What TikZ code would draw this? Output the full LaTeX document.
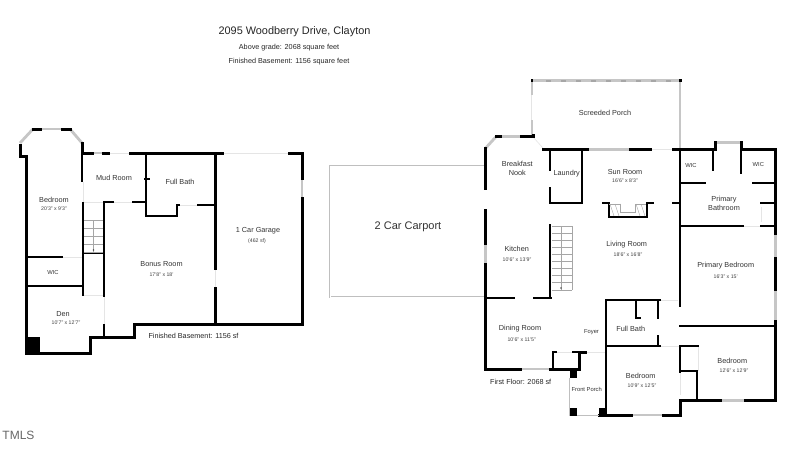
\documentclass[tikz,border=0pt]{standalone}
\usepackage{fontspec}
\setmainfont{Liberation Sans}
\tikzset{
  wall/.style={line width=3pt,line cap=rect,black},
  slimwall/.style={line width=2pt,line cap=rect,black},
  pane/.style={line width=2.8pt,gray!45},
  doorgap/.style={line width=0.6pt,gray!20},
  porchline/.style={line width=0.6pt,gray!50},
  treads/.style={line width=0.4pt,gray!70},
  room/.style={font=\fontsize{7.3}{8}\selectfont,text=black!80,inner sep=0pt,align=center},
  dim/.style={font=\fontsize{5.2}{6}\selectfont,text=black!75,inner sep=0pt},
  tiny/.style={font=\fontsize{5.8}{6}\selectfont,text=black!80,inner sep=0pt},
  heading/.style={font=\fontsize{7.25}{8}\selectfont,text=black!85,inner sep=0pt}
}
\begin{document}
\begin{tikzpicture}[x=1pt,y=-1pt]
\useasboundingbox ( 0, 0 ) rectangle ( 800, 456 );
\fill [white] ( 0, 0 ) rectangle ( 800, 456 );

% заголовок
\node [heading,font=\fontsize{10.9}{12}\selectfont] (title) at ( 294.5, 32 ) {2095 Woodberry Drive, Clayton};
\node [heading] (above) at ( 289, 48 ) {Above grade: 2068 square feet};
\node [heading] (finished) at ( 289, 62 ) {Finished Basement: 1156 square feet};

% подвал: окна и проёмы
\draw [pane] ( 20, 143 ) -- ( 33, 129 );
\draw [pane] ( 40, 129 ) -- ( 62, 129 );
\draw [pane] ( 70, 129 ) -- ( 82, 143 );
\draw [pane] ( 92, 153 ) -- ( 103, 153 );
\draw [pane] ( 302, 178 ) -- ( 302, 198 );
\draw [doorgap] ( 108, 153 ) -- ( 130, 153 );
\draw [doorgap] ( 222, 153 ) -- ( 289, 153 );
\draw [doorgap] ( 83, 182 ) -- ( 83, 202 );
\draw [doorgap] ( 83, 202 ) -- ( 103, 202 );
\draw [doorgap] ( 113, 202 ) -- ( 133, 202 );
\draw [doorgap] ( 180, 205 ) -- ( 198, 205 );
\draw [doorgap] ( 63, 257 ) -- ( 82, 257 );
\draw [doorgap,line width=1pt] ( 84, 295 ) -- ( 103, 295 );
\draw [doorgap] ( 104, 297 ) -- ( 104, 325 );
\draw [doorgap] ( 215, 268 ) -- ( 215, 288 );

% подвал: стены
\draw [wall] ( 20, 145 ) -- ( 20, 156 ) -- ( 26, 156 ) -- ( 26, 353 ) -- ( 90, 353 ) -- ( 90, 337 ) -- ( 134, 337 ) -- ( 134, 324 ) -- ( 302, 324 ) -- ( 302, 198 );
\draw [wall] ( 302, 178 ) -- ( 302, 153 ) -- ( 289, 153 );
\draw [wall] ( 222, 153 ) -- ( 130, 153 );
\draw [wall] ( 108, 153 ) -- ( 103, 153 );
\draw [wall] ( 92, 153 ) -- ( 82, 153 ) -- ( 82, 143 );
\draw [wall] ( 33, 129 ) -- ( 40, 129 );
\draw [wall] ( 62, 129 ) -- ( 70, 129 );
\draw [slimwall] ( 82, 153 ) -- ( 82, 181 );
\draw [slimwall,line width=1.2pt] ( 83, 203 ) -- ( 83, 295 );
\draw [slimwall] ( 26, 257 ) -- ( 62, 257 );
\draw [slimwall] ( 26, 286 ) -- ( 82, 286 );
\draw [slimwall] ( 83, 253 ) -- ( 104, 253 );
\draw [slimwall] ( 104, 202 ) -- ( 104, 296 );
\draw [slimwall] ( 104, 325 ) -- ( 104, 337 );
\draw [slimwall] ( 104, 202 ) -- ( 113, 202 );
\draw [slimwall] ( 133, 202 ) -- ( 145, 202 );
\draw [slimwall] ( 145.5, 153 ) -- ( 145.5, 216 ) -- ( 176.5, 216 ) -- ( 176.5, 205 ) -- ( 179, 205 );
\draw [slimwall] ( 145, 179 ) -- ( 149, 179 );
\draw [slimwall] ( 198, 205 ) -- ( 215, 205 );
\draw [wall] ( 215, 153 ) -- ( 215, 268 );
\draw [wall] ( 215, 288 ) -- ( 215, 324 );
\fill [black] ( 26, 337 ) rectangle ( 40, 354 );

% подвал: лестница
\foreach \y in { 220, 228, 236, 244, 252 }
  \draw [treads] ( 84, \y ) -- ( 103, \y );
\draw [treads] ( 93.5, 220 ) -- ( 93.5, 252 );
\fill [black!70] ( 93.5, 250 ) circle ( 0.8 );

% подвал: подписи
\node [room] (bedroomlow) at ( 54, 200 ) {Bedroom};
\node [dim] (bedroomlowdim) at ( 54, 208.5 ) {20'3" x 9'3"};
\node [room] (mudroom) at ( 114, 177.5 ) {Mud Room};
\node [room] (bathlow) at ( 180, 182 ) {Full Bath};
\node [room] (garage) at ( 258, 231 ) {1 Car Garage};
\node [dim] (garagedim) at ( 257, 241 ) {(462 sf)};
\node [room] (bonus) at ( 161.5, 264 ) {Bonus Room};
\node [dim] (bonusdim) at ( 161.5, 274.5 ) {17'8" x 18'};
\node [tiny] (wiclow) at ( 53, 272 ) {WIC};
\node [room] (den) at ( 63, 314 ) {Den};
\node [dim] (dendim) at ( 66, 323 ) {10'7" x 12'7"};
\node [heading] (basementarea) at ( 193.5, 336 ) {Finished Basement: 1156 sf};

% навес
\draw [porchline,double=white,double distance=0.6pt] ( 485, 166 ) -- ( 330, 166 ) -- ( 330, 297 ) -- ( 485, 297 );
\node [room,font=\fontsize{11}{12}\selectfont] (carport) at ( 408, 227 ) {2 Car Carport};

% веранда
\draw [pane,line width=2.4pt] ( 532, 80.5 ) -- ( 680, 80.5 ) -- ( 680, 148 );
\draw [pane,line width=2.4pt] ( 531.7, 80 ) -- ( 531.7, 95 );
\draw [pane,line width=2.4pt] ( 531.7, 120 ) -- ( 531.7, 135 );
\draw [doorgap] ( 531.7, 95 ) -- ( 531.7, 120 );
\foreach \x in { 546, 561, 576, 591, 606, 621, 636, 651, 666 }
  \draw [gray!70,line width=0.3pt] ( \x, 79.7 ) rectangle ( \x + 4, 81.3 );
\fill [black] ( 678.5, 78.5 ) rectangle ( 681.5, 82 );
\fill [black] ( 530.5, 79 ) rectangle ( 533, 82 );
\node [room] (porch) at ( 605, 113.3 ) {Screeded Porch};

% первый этаж: окна и проёмы
\draw [pane] ( 485.7, 148 ) -- ( 496, 136.7 );
\draw [pane] ( 502, 136.7 ) -- ( 521, 136.7 );
\draw [doorgap] ( 533, 137 ) -- ( 543, 148 );
\draw [pane] ( 485.7, 243 ) -- ( 485.7, 264 );
\draw [pane] ( 520, 369 ) -- ( 550, 369 );
\draw [pane] ( 587, 149.3 ) -- ( 630, 149.3 );
\draw [doorgap] ( 650, 149.3 ) -- ( 673, 149.3 );
\draw [pane] ( 717, 142.7 ) -- ( 740, 142.7 );
\draw [pane] ( 775.7, 233 ) -- ( 775.7, 258 );
\draw [pane] ( 775.7, 289 ) -- ( 775.7, 321 );
\draw [pane] ( 720, 400.7 ) -- ( 745, 400.7 );
\draw [pane] ( 631, 415 ) -- ( 663, 415 );
\draw [doorgap] ( 660, 300 ) -- ( 678, 300 );
\draw [doorgap] ( 660, 346 ) -- ( 680, 346 );
\draw [doorgap] ( 585, 352 ) -- ( 605, 352 );
\draw [doorgap] ( 556, 352 ) -- ( 573, 352 );
\draw [doorgap] ( 742.7, 226 ) -- ( 760, 226 );
\draw [doorgap] ( 761, 207 ) -- ( 761, 222 );
\draw [doorgap] ( 680, 372 ) -- ( 680, 395 );
\draw [doorgap] ( 698, 346 ) -- ( 698, 371 );

% первый этаж: стены
\draw [wall] ( 485.7, 148 ) -- ( 485.7, 188 );
\draw [wall] ( 485.7, 210 ) -- ( 485.7, 243 );
\draw [wall] ( 485.7, 264 ) -- ( 485.7, 369 ) -- ( 520, 369 );
\draw [wall] ( 496, 136.7 ) -- ( 500, 136.7 );
\draw [wall] ( 521, 136.7 ) -- ( 533, 136.7 ) -- ( 533, 135 );
\draw [wall] ( 543, 149.3 ) -- ( 587, 149.3 );
\draw [wall] ( 630, 149.3 ) -- ( 650, 149.3 );
\draw [wall] ( 673, 149.3 ) -- ( 715.7, 149.3 ) -- ( 715.7, 142 );
\draw [wall] ( 741, 142 ) -- ( 741, 149.3 ) -- ( 775.7, 149.3 ) -- ( 775.7, 233 );
\draw [slimwall] ( 741, 149 ) -- ( 741, 173 );
\draw [slimwall] ( 713, 150 ) -- ( 713, 170 );
\draw [slimwall] ( 680, 183.3 ) -- ( 705, 183.3 );
\draw [slimwall] ( 753, 183.3 ) -- ( 775, 183.3 );
\draw [slimwall] ( 761, 202.7 ) -- ( 775, 202.7 );
\draw [slimwall] ( 761, 226 ) -- ( 775, 226 );
\draw [slimwall] ( 680, 226 ) -- ( 742.7, 226 );
\draw [slimwall] ( 680, 149 ) -- ( 680, 306 );
\draw [slimwall] ( 673, 203 ) -- ( 680, 203 );
\draw [wall] ( 775.7, 258 ) -- ( 775.7, 289 );
\draw [wall] ( 775.7, 321 ) -- ( 775.7, 400.7 ) -- ( 745, 400.7 );
\draw [wall] ( 720, 400.7 ) -- ( 680.7, 400.7 ) -- ( 680.7, 415 ) -- ( 663, 415 );
\draw [wall] ( 631, 415 ) -- ( 599, 415 );
\draw [slimwall] ( 680, 325.7 ) -- ( 776, 325.7 );
\draw [slimwall] ( 680, 346 ) -- ( 680, 372 );
\draw [slimwall] ( 680, 346 ) -- ( 698, 346 );
\draw [slimwall] ( 680, 371 ) -- ( 697, 371 ) -- ( 697, 400 );
\draw [slimwall] ( 605.7, 300 ) -- ( 660, 300 );
\draw [slimwall] ( 636, 300 ) -- ( 636, 318 ) -- ( 640, 318 );
\draw [slimwall] ( 658, 300 ) -- ( 658, 318 );
\draw [slimwall] ( 658, 336 ) -- ( 658, 346 );
\draw [slimwall] ( 607, 346 ) -- ( 660, 346 );
\draw [slimwall] ( 605.7, 300 ) -- ( 605.7, 415 );
\draw [wall] ( 550, 369 ) -- ( 579, 369 ) -- ( 579, 352 ) -- ( 585, 352 );
\draw [slimwall] ( 553, 369 ) -- ( 553, 352 ) -- ( 556, 352 );
\draw [slimwall] ( 573, 352 ) -- ( 579, 352 );
\draw [slimwall] ( 486, 297.7 ) -- ( 514, 297.7 );
\draw [slimwall] ( 534, 297.7 ) -- ( 551, 297.7 );
\draw [slimwall] ( 550, 150 ) -- ( 550, 170 );
\draw [slimwall] ( 550, 188 ) -- ( 550, 203 ) -- ( 582.3, 203 );
\draw [slimwall] ( 582.3, 150 ) -- ( 582.3, 203 );
\draw [slimwall] ( 550, 225 ) -- ( 550, 297 );

% камин
\draw [slimwall] ( 603, 203 ) -- ( 608.7, 203 ) -- ( 608.7, 217.3 ) -- ( 646.7, 217.3 ) -- ( 646.7, 203 ) -- ( 653, 203 );
\foreach \x in { 610, 615, 636, 641 }
  \draw [treads] ( \x, 204 ) -- ( \x + 4, 216 );
\draw [treads] ( 620, 203.5 ) -- ( 620, 212 ) -- ( 635, 212 ) -- ( 635, 203.5 );
\draw [treads] ( 609, 204 ) -- ( 620, 204 );
\draw [treads] ( 635, 204 ) -- ( 646, 204 );

% первый этаж: лестница
\foreach \y in { 226, 233, 240, 247, 254, 261, 268, 275, 282, 290 }
  \draw [treads] ( 552, \y ) -- ( 572, \y );
\draw [treads] ( 561, 226 ) -- ( 561, 290 );
\draw [treads] ( 572, 226 ) -- ( 572, 290 );
\fill [black!70] ( 561, 288 ) circle ( 0.8 );

% крыльцо
\draw [porchline] ( 569.5, 378 ) -- ( 569.5, 415.7 ) -- ( 605, 415.7 );
\fill [black] ( 569.5, 369 ) rectangle ( 577, 378 );
\fill [black] ( 569.5, 408 ) rectangle ( 577, 416 );
\fill [black] ( 599, 408 ) rectangle ( 606, 416 );

% первый этаж: подписи
\node [room] (nook) at ( 517.3, 168.5 ) {Breakfast\\[1pt]Nook};
\node [room] (laundry) at ( 566.7, 174 ) {Laundry};
\node [room] (sunroom) at ( 625, 171.7 ) {Sun Room};
\node [dim] (sunroomdim) at ( 625, 180.7 ) {16'6" x 8'3"};
\node [tiny] (wicleft) at ( 691, 165.7 ) {WIC};
\node [tiny] (wicright) at ( 758.3, 164.7 ) {WIC};
\node [room] (primarybath) at ( 724, 203.5 ) {Primary\\[1pt]Bathroom};
\node [room] (kitchen) at ( 516.7, 249.3 ) {Kitchen};
\node [dim] (kitchendim) at ( 517, 259.5 ) {10'6" x 13'9"};
\node [room] (living) at ( 626.7, 245 ) {Living Room};
\node [dim] (livingdim) at ( 628, 254.3 ) {18'6" x 16'8"};
\node [room] (primarybed) at ( 725.7, 266 ) {Primary Bedroom};
\node [dim] (primarybeddim) at ( 725.7, 277 ) {16'3" x 15'};
\node [room] (dining) at ( 520, 329 ) {Dining Room};
\node [dim] (diningdim) at ( 521.7, 339.5 ) {10'6" x 11'5"};
\node [tiny] (foyer) at ( 591.5, 332.5 ) {Foyer};
\node [room] (bathup) at ( 630.7, 329 ) {Full Bath};
\node [room] (bedroomfront) at ( 640.7, 375.7 ) {Bedroom};
\node [dim] (bedroomfrontdim) at ( 642, 385.3 ) {10'9" x 12'5"};
\node [room] (bedroomeast) at ( 732.3, 360.7 ) {Bedroom};
\node [dim] (bedroomeastdim) at ( 734, 371 ) {12'6" x 12'9"};
\node [tiny] (frontporch) at ( 586.7, 389 ) {Front Porch};
\node [heading] (firstarea) at ( 520.7, 381.7 ) {First Floor: 2068 sf};

% логотип
\node [font=\fontsize{12}{13}\selectfont,text=black!60,inner sep=0pt] (tmls) at ( 18.5, 435 ) {TMLS};
\end{tikzpicture}
\end{document}
